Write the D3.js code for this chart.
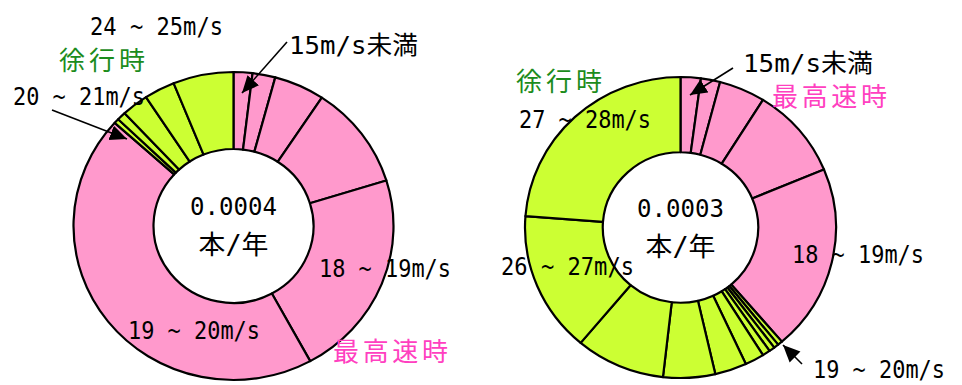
<!DOCTYPE html>
<html>
<head>
<meta charset="utf-8">
<script src="https://cdn.jsdelivr.net/npm/d3@7"></script>
<style>
  body { margin: 0; background: #fff; }
  text { font-family: "DejaVu Sans Mono", "Noto Sans CJK JP", monospace; }
  .mode { font-family: "Noto Sans CJK JP", sans-serif; }
</style>
</head>
<body>
<div id="chart"></div>
<script>
// share of hours (%) by wind-speed band, per operating mode
const leftMaxCats = ["15m/s未満", "15~16", "16~17", "17~18", "18~19", "19~20"];
const leftMaxVals = [1.9, 2.3, 5.1, 10.9, 21.8, 44.6];
const leftSlowCats = ["20~21", "21~22", "22~23", "23~24", "24~25"];
const leftSlowVals = [0.5, 0.9, 2.7, 3.1, 6.1];

const rightMaxCats = ["15m/s未満", "15~16", "16~17", "17~18", "18~19"];
const rightMaxVals = [2.1, 2.0, 4.8, 9.8, 20.0];
const rightSlowCats = ["18~19", "19~20", "20~21", "21~22", "22~23", "23~24", "24~25", "25~26", "26~27", "27~28"];
const rightSlowVals = [0.5, 0.5, 0.6, 0.8, 2.0, 3.3, 5.4, 9.3, 15.1, 23.8];

const centerLabels = ["0.0004", "0.0003"];
const unitLabel = "本/年";
const modeNames = { max: "最高速時", slow: "徐行時" };

const colors = { max: "#ff99cc", slow: "#ccff33" };
const modeColors = { max: "#ff40c0", slow: "#1c8c1c" };

const width = 962, height = 385;

const svg = d3.select("#chart").append("svg")
  .attr("width", width)
  .attr("height", height);

svg.append("defs").append("marker")
  .attr("id", "arrow")
  .attr("viewBox", "0 0 10 10")
  .attr("refX", 10).attr("refY", 5)
  .attr("markerWidth", 17).attr("markerHeight", 17)
  .attr("markerUnits", "userSpaceOnUse")
  .attr("orient", "auto")
  .append("path")
  .attr("d", "M0,0.5 L10,5 L0,9.5 z")
  .attr("fill", "#000");

function buildRows(maxCats, maxVals, slowCats, slowVals) {
  const rows = maxCats.map((c, i) => ({ cat: c, value: maxVals[i], mode: "max" }));
  return rows.concat(slowCats.map((c, i) => ({ cat: c, value: slowVals[i], mode: "slow" })));
}

function addText(x, y, str, size, len, cls, fill) {
  const t = svg.append("text")
    .attr("x", x).attr("y", y)
    .attr("font-size", size)
    .attr("fill", fill || "#000")
    .text(str);
  if (cls) t.attr("class", cls);
  if (len) t.attr("textLength", len).attr("lengthAdjust", cls ? "spacing" : "spacingAndGlyphs");
  return t;
}

function drawDonut(cfg) {
  const g = svg.append("g")
    .attr("transform", `translate(${cfg.cx},${cfg.cy}) scale(1,${cfg.ry / cfg.rx})`);

  const pie = d3.pie().sort(null).value(d => d.value);
  const arc = d3.arc().innerRadius(cfg.rx * 0.5).outerRadius(cfg.rx);

  g.selectAll("path")
    .data(pie(cfg.rows))
    .join("path")
    .attr("d", arc)
    .attr("fill", d => colors[d.data.mode])
    .attr("stroke", "#000")
    .attr("stroke-width", 2.2)
    .attr("stroke-linejoin", "round")
    .attr("vector-effect", "non-scaling-stroke");

  // center text
  addText(cfg.cx - 43.5, cfg.cy - 11, cfg.center, 25, 87);
  addText(cfg.cx - 35, cfg.cy + 28, unitLabel, 26, 70);

  cfg.labels.forEach(l => {
    if (l.mode) addText(l.x, l.y, modeNames[l.mode], 26, l.w, "mode", modeColors[l.mode]);
    else addText(l.x, l.y, l.text, l.size || 25, l.w);
  });

  cfg.arrows.forEach(a => {
    svg.append("line")
      .attr("x1", a[0]).attr("y1", a[1]).attr("x2", a[2]).attr("y2", a[3])
      .attr("stroke", "#000").attr("stroke-width", 1.6)
      .attr("marker-end", "url(#arrow)");
  });
}

drawDonut({
  cx: 233.5, cy: 226, rx: 160, ry: 154,
  rows: buildRows(leftMaxCats, leftMaxVals, leftSlowCats, leftSlowVals),
  center: centerLabels[0],
  labels: [
    { text: "24 ~ 25m/s", x: 90, y: 35, w: 133 },
    { mode: "slow", x: 59, y: 70, w: 86 },
    { text: "15m/s未満", x: 289, y: 54, w: 129 },
    { text: "20 ~ 21m/s", x: 13, y: 105, w: 132 },
    { text: "18 ~ 19m/s", x: 319, y: 277, w: 132 },
    { text: "19 ~ 20m/s", x: 128, y: 339, w: 132 },
    { mode: "max", x: 333, y: 361, w: 115 }
  ],
  arrows: [[287, 42, 242, 93], [52, 110, 127, 139]]
});

drawDonut({
  cx: 680.5, cy: 227.5, rx: 155.5, ry: 150.5,
  rows: buildRows(rightMaxCats, rightMaxVals, rightSlowCats, rightSlowVals),
  center: centerLabels[1],
  labels: [
    { text: "15m/s未満", x: 743, y: 72, w: 130 },
    { mode: "max", x: 772, y: 106, w: 115 },
    { mode: "slow", x: 516, y: 91, w: 86 },
    { text: "27 ~ 28m/s", x: 519, y: 128, w: 132 },
    { text: "18 ~ 19m/s", x: 792, y: 263, w: 132 },
    { text: "26 ~ 27m/s", x: 501, y: 275, w: 133 },
    { text: "19 ~ 20m/s", x: 813, y: 378, w: 132, size: 24 }
  ],
  arrows: [[733, 68, 690, 95], [802, 364, 783, 345]]
});
</script>
</body>
</html>
